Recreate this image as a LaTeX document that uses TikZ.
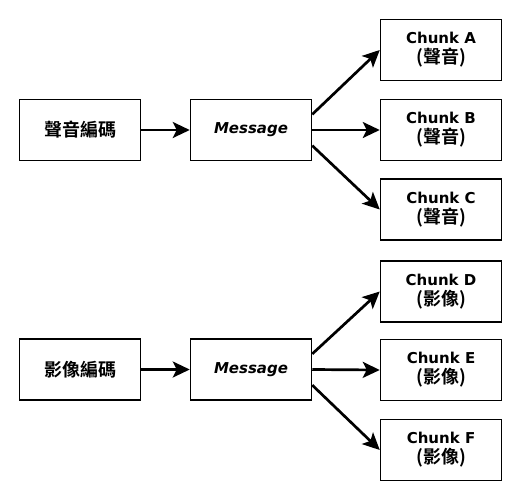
\documentclass[tikz,border=0pt]{standalone}
\usepackage{fontspec}
\setmainfont{DejaVu Sans}
\newfontfamily\cjk{Noto Sans CJK TC}[BoldFont=Noto Sans CJK TC Bold]
\usetikzlibrary{arrows.meta,calc}
\tikzset{
  box/.style={draw=black, line width=1.5pt, fill=white, minimum width=121pt, minimum height=61pt, inner sep=0pt, align=center, font=\fontsize{15pt}{20pt}\selectfont\bfseries},
  arr/.style={line width=2.7pt, -{Stealth[length=17pt, width=16pt, inset=4pt]}},
}
\newcommand{\zh}[1]{{\cjk\fontsize{18pt}{20pt}\selectfont\bfseries #1}}
\begin{document}
\begin{tikzpicture}[x=1pt,y=-1pt]
\useasboundingbox (0,0) rectangle (511,501);
% top group
\node[box] (enc1) at (80,130) {\zh{聲音編碼}};
\node[box] (msg1) at (251,130) {\itshape Message};
\node[box] (ca) at (441,50) {Chunk A\\\zh{(聲音)}};
\node[box] (cb) at (441,130) {Chunk B\\\zh{(聲音)}};
\node[box] (cc) at (441,209.5) {Chunk C\\\zh{(聲音)}};
% bottom group
\node[box] (enc2) at (80,369.5) {\zh{影像編碼}};
\node[box] (msg2) at (251,369.5) {\itshape Message};
\node[box] (cd) at (441,291.5) {Chunk D\\\zh{(影像)}};
\node[box] (ce) at (441,370) {Chunk E\\\zh{(影像)}};
\node[box] (cf) at (441,450) {Chunk F\\\zh{(影像)}};
% arrows
\draw[arr] (enc1.east) -- (msg1.west);
\draw[arr] ($(msg1.north east)!0.25!(msg1.south east)$) -- (ca.west);
\draw[arr] (msg1.east) -- (cb.west);
\draw[arr] ($(msg1.north east)!0.75!(msg1.south east)$) -- (cc.west);
\draw[arr] (enc2.east) -- (msg2.west);
\draw[arr] ($(msg2.north east)!0.25!(msg2.south east)$) -- (cd.west);
\draw[arr] (msg2.east) -- (ce.west);
\draw[arr] ($(msg2.north east)!0.75!(msg2.south east)$) -- (cf.west);
\end{tikzpicture}
\end{document}
